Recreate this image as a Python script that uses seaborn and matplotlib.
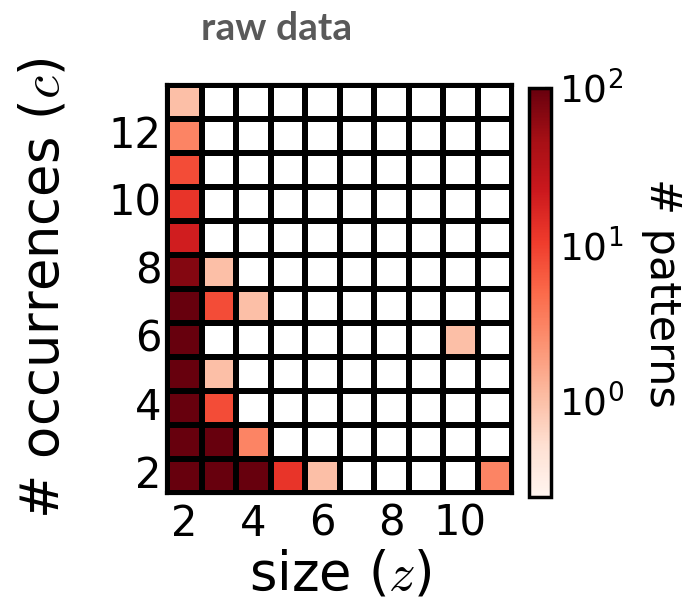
import numpy as np
import pandas as pd
import matplotlib
matplotlib.use("Agg")
import matplotlib.pyplot as plt
import seaborn as sns
from matplotlib.colors import LogNorm

sizes = [2, 3, 4, 5, 6, 7, 8, 9, 10, 11]
occurrences = [13, 12, 11, 10, 9, 8, 7, 6, 5, 4, 3, 2]
counts = [
    [1,   0,   0,   0,  0, 0, 0, 0, 0, 0],   # c=13
    [3,   0,   0,   0,  0, 0, 0, 0, 0, 0],   # c=12
    [8,   0,   0,   0,  0, 0, 0, 0, 0, 0],   # c=11
    [12,  0,   0,   0,  0, 0, 0, 0, 0, 0],   # c=10
    [20,  0,   0,   0,  0, 0, 0, 0, 0, 0],   # c=9
    [70,  1,   0,   0,  0, 0, 0, 0, 0, 0],   # c=8
    [100, 8,   1,   0,  0, 0, 0, 0, 0, 0],   # c=7
    [100, 0,   0,   0,  0, 0, 0, 0, 1, 0],   # c=6
    [100, 1,   0,   0,  0, 0, 0, 0, 0, 0],   # c=5
    [100, 8,   0,   0,  0, 0, 0, 0, 0, 0],   # c=4
    [100, 100, 3,   0,  0, 0, 0, 0, 0, 0],   # c=3
    [100, 100, 100, 12, 1, 0, 0, 0, 0, 3],   # c=2
]
x_ticklabels = [2, 4, 6, 8, 10]
y_ticklabels = [2, 4, 6, 8, 10, 12]

df = pd.DataFrame(counts, index=occurrences, columns=sizes).astype(float)
mask = df <= 0

sns.set_style("white")
plt.rcParams['font.family'] = ['DejaVu Sans']
plt.rcParams['font.sans-serif'] = ['DejaVu Sans']
plt.rcParams['mathtext.fontset'] = 'cm'
plt.rcParams['text.color'] = 'black'
plt.rcParams['axes.labelcolor'] = 'black'
plt.rcParams['xtick.color'] = 'black'
plt.rcParams['ytick.color'] = 'black'

fig = plt.figure(figsize=(6.82, 6.02), dpi=100)
ax = fig.add_axes([0.245, 0.181, 0.506, 0.678])
cax = fig.add_axes([0.776, 0.174, 0.032, 0.680])

sns.heatmap(df, ax=ax, cbar_ax=cax, cmap="Reds",
            norm=LogNorm(vmin=0.24, vmax=100), mask=mask,
            linewidths=3, linecolor="black", square=False,
            cbar_kws={"ticks": [1, 10, 100]})

ax.set_facecolor("white")
for s in ax.spines.values():
    s.set_visible(True)
    s.set_color("black")
    s.set_linewidth(3)

dj = "DejaVu Sans"
xpos = [sizes.index(v) + 0.5 for v in x_ticklabels]
ypos = [occurrences.index(v) + 0.5 for v in y_ticklabels]
ax.set_xticks(xpos)
ax.set_xticklabels([str(v) for v in x_ticklabels], rotation=0, fontsize=30, family=dj)
ax.set_yticks(ypos)
ax.set_yticklabels([str(v) for v in y_ticklabels], rotation=0, fontsize=30, family=dj)
ax.tick_params(axis="x", length=0, pad=7)
ax.tick_params(axis="y", length=0, pad=4)
ax.set_xlabel("size ($z$)", fontsize=38, labelpad=3, family=dj)
ax.set_ylabel("# occurrences ($c$)", fontsize=38, labelpad=28, family=dj)

cbar = ax.collections[0].colorbar
cbar.outline.set_visible(True)
cbar.outline.set_edgecolor("black")
cbar.outline.set_linewidth(2.5)
cbar.ax.minorticks_off()
cbar.ax.tick_params(labelsize=27, length=4, width=1.5, direction="in", pad=6)
for t in cbar.ax.get_yticklabels():
    t.set_family(dj)
cbar.set_label("# patterns", fontsize=31, rotation=270, labelpad=42, family=dj)

fig.text(0.406, 0.953, "raw data", ha="center", va="center",
         fontsize=28, fontweight="bold", color="#595959", family="Lato")

fig.savefig("out.png", dpi=100, facecolor="white")
